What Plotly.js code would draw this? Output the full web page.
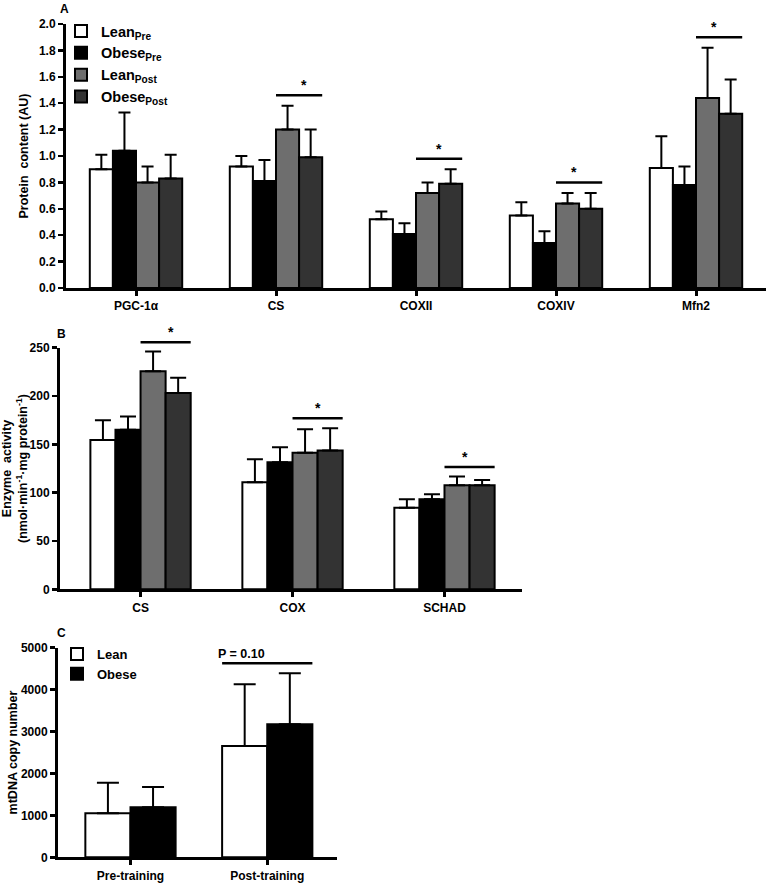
<!DOCTYPE html>
<html>
<head>
<meta charset="utf-8">
<script src="https://cdn.plot.ly/plotly-3.0.1.min.js"></script>
<style>html,body{margin:0;padding:0;background:#fff;}#chart{width:767px;height:884px;}</style>
</head>
<body>
<div id="chart"></div>
<script>
// ---------- Panel A: protein content ----------
const catsA = ['PGC-1α', 'CS', 'COXII', 'COXIV', 'Mfn2'];
const leanPreA = [0.90, 0.92, 0.52, 0.55, 0.91];
const leanPreErrA = [0.11, 0.08, 0.06, 0.10, 0.24];
const obesePreA = [1.04, 0.81, 0.41, 0.34, 0.78];
const obesePreErrA = [0.29, 0.16, 0.08, 0.09, 0.14];
const leanPostA = [0.80, 1.20, 0.72, 0.64, 1.44];
const leanPostErrA = [0.12, 0.18, 0.08, 0.08, 0.38];
const obesePostA = [0.83, 0.99, 0.79, 0.60, 1.32];
const obesePostErrA = [0.18, 0.21, 0.11, 0.12, 0.26];
const sigA = [null, 1.46, 0.98, 0.80, 1.90];

// ---------- Panel B: enzyme activity ----------
const catsB = ['CS', 'COX', 'SCHAD'];
const leanPreB = [154.5, 110.8, 84.5];
const leanPreErrB = [20.5, 23.8, 8.7];
const obesePreB = [165, 131.5, 93.2];
const obesePreErrB = [13.7, 15.5, 5.1];
const leanPostB = [225.7, 141.4, 107.7];
const leanPostErrB = [20.3, 24.2, 8.9];
const obesePostB = [203, 143.5, 107.7];
const obesePostErrB = [16, 23.2, 5.4];
const sigB = [255.7, 177, 126.6];

// ---------- Panel C: mtDNA copy number ----------
const catsC = ['Pre-training', 'Post-training'];
const leanC = [1050, 2656];
const leanErrC = [730, 1473];
const obeseC = [1193, 3174];
const obeseErrC = [485, 1217];
const sigC = [null, 4630];
const sigLabelC = 'P = 0.10';

// ---------- axis ranges ----------
const xRangeA = [-0.5, 4.5], yRangeA = [0, 2.0];
const xRangeB = [-0.53, 2.51], yRangeB = [0, 250];
const xRangeC = [-0.53, 1.51], yRangeC = [0, 5000];

// ---------- styling ----------
const FONT = 'Liberation Sans, Arial, Helvetica, sans-serif';
const colLeanPre = '#ffffff', colObesePre = '#000000', colLeanPost = '#6e6e6e', colObesePost = '#333333';
const BARGAP = 0.34;

function barTrace(name, x, y, err, color, xa, ya, capw, extra) {
  return Object.assign({
    type: 'bar', name: name, x: x, y: y, xaxis: xa, yaxis: ya,
    marker: {color: color, line: {color: '#000', width: 2}},
    error_y: {type: 'data', symmetric: false, array: err, arrayminus: y.map(() => 0),
      color: '#000', thickness: 2, width: capw},
    hoverinfo: 'skip'
  }, extra || {});
}

const traces = [
  barTrace('Lean<sub>Pre</sub>', catsA, leanPreA, leanPreErrA, colLeanPre, 'x', 'y', 6),
  barTrace('Obese<sub>Pre</sub>', catsA, obesePreA, obesePreErrA, colObesePre, 'x', 'y', 6),
  barTrace('Lean<sub>Post</sub>', catsA, leanPostA, leanPostErrA, colLeanPost, 'x', 'y', 6),
  barTrace('Obese<sub>Post</sub>', catsA, obesePostA, obesePostErrA, colObesePost, 'x', 'y', 6),
  barTrace('Lean<sub>Pre</sub>', catsB, leanPreB, leanPreErrB, colLeanPre, 'x2', 'y2', 8, {showlegend: false}),
  barTrace('Obese<sub>Pre</sub>', catsB, obesePreB, obesePreErrB, colObesePre, 'x2', 'y2', 8, {showlegend: false}),
  barTrace('Lean<sub>Post</sub>', catsB, leanPostB, leanPostErrB, colLeanPost, 'x2', 'y2', 8, {showlegend: false}),
  barTrace('Obese<sub>Post</sub>', catsB, obesePostB, obesePostErrB, colObesePost, 'x2', 'y2', 8, {showlegend: false}),
  barTrace('Lean', catsC, leanC, leanErrC, colLeanPre, 'x3', 'y3', 11, {legend: 'legend2'}),
  barTrace('Obese', catsC, obeseC, obeseErrC, colObesePre, 'x3', 'y3', 11, {legend: 'legend2'})
];

// significance bars and labels (positioned in axis-domain units derived from the axis ranges,
// so that marks above the top tick are not clipped)
const shapes = [];
const annotations = [];
const half = (1 - BARGAP) / 2;
function frac(v, r) { return (v - r[0]) / (r[1] - r[0]); }
function addSig(vals, xa, ya, xr, yr, fromOffset, toOffset, label, size, lift) {
  vals.forEach((v, i) => {
    if (v === null) return;
    const yf = frac(v, yr);
    shapes.push({type: 'line', xref: xa + ' domain', yref: ya + ' domain',
      x0: frac(i + fromOffset, xr), x1: frac(i + toOffset, xr), y0: yf, y1: yf,
      line: {color: '#000', width: 2.5}});
    annotations.push({xref: xa + ' domain', yref: ya + ' domain', x: frac(i + (fromOffset + toOffset) / 2, xr), y: yf,
      text: label, showarrow: false, yanchor: 'bottom', yshift: lift,
      font: {family: FONT, size: size, color: '#000', weight: 'bold'}});
  });
}
addSig(sigA, 'x', 'y', xRangeA, yRangeA, 0, half, '*', 14, 0);
addSig(sigB, 'x2', 'y2', xRangeB, yRangeB, 0, half, '*', 14, 0);
addSig(sigC, 'x3', 'y3', xRangeC, yRangeC, -half, half, sigLabelC, 12.5, 0);

// panel letters
[['A', 0.0847, 1 - 0 / 884], ['B', 0.0808, 1 - 325 / 884], ['C', 0.0808, 1 - 624 / 884]].forEach(p => {
  annotations.push({xref: 'paper', yref: 'paper', x: p[1], y: p[2], text: p[0], showarrow: false,
    xanchor: 'center', yanchor: 'top', font: {family: FONT, size: 12, color: '#000', weight: 'bold'}});
});

const tickFont = {family: FONT, size: 12, color: '#000', weight: 'bold'};
const titleFont = {family: FONT, size: 12.5, color: '#000', weight: 'bold'};
const xCommon = {type: 'category', showline: true, linewidth: 3, linecolor: '#000', ticks: 'outside',
  ticklen: 5, tickwidth: 3, tickcolor: '#000', tickfont: tickFont, showgrid: false, zeroline: false, fixedrange: true};
const yCommon = {showline: true, linewidth: 3, linecolor: '#000', ticks: 'outside', ticklen: 5, tickwidth: 2.5,
  tickcolor: '#000', tickfont: tickFont, showgrid: false, zeroline: false, fixedrange: true};

const layout = {
  width: 767, height: 884,
  margin: {l: 0, r: 0, t: 0, b: 0},
  paper_bgcolor: '#fff', plot_bgcolor: 'rgba(0,0,0,0)',
  barmode: 'group', bargap: BARGAP, bargroupgap: 0,
  font: {family: FONT, color: '#000'},
  showlegend: true,
  legend: {x: 61 / 767, y: 1 - 15 / 884, xanchor: 'left', yanchor: 'top', bgcolor: 'rgba(0,0,0,0)',
    font: {family: FONT, size: 14.5, color: '#000', weight: 'bold'}, traceorder: 'normal', itemclick: false},
  legend2: {x: 57 / 767, y: 1 - 639 / 884, xanchor: 'left', yanchor: 'top', bgcolor: 'rgba(0,0,0,0)',
    font: {family: FONT, size: 13, color: '#000', weight: 'bold'}, traceorder: 'normal', itemclick: false},
  xaxis: Object.assign({}, xCommon, {domain: [66 / 767, 766 / 767], range: xRangeA, anchor: 'y'}),
  yaxis: Object.assign({}, yCommon, {domain: [1 - 288 / 884, 1 - 24 / 884], range: yRangeA, dtick: 0.2,
    tickformat: '.1f', anchor: 'x', title: {text: 'Protein  content (AU)', font: titleFont, standoff: 8}}),
  xaxis2: Object.assign({}, xCommon, {domain: [60 / 767, 522 / 767], range: xRangeB, anchor: 'y2'}),
  yaxis2: Object.assign({}, yCommon, {domain: [1 - 589.3 / 884, 1 - 347.7 / 884], range: yRangeB, dtick: 50,
    anchor: 'x2', title: {text: 'Enzyme  activity<br>(nmol·min<sup>-1</sup>·mg protein<sup>-1</sup>)', font: titleFont, standoff: 0}}),
  xaxis3: Object.assign({}, xCommon, {domain: [58 / 767, 337 / 767], range: xRangeC, anchor: 'y3'}),
  yaxis3: Object.assign({}, yCommon, {domain: [1 - 857.3 / 884, 1 - 647.7 / 884], range: yRangeC, dtick: 1000,
    anchor: 'x3', title: {text: 'mtDNA copy number', font: titleFont, standoff: 1}}),
  shapes: shapes,
  annotations: annotations
};

Plotly.newPlot('chart', traces, layout, {staticPlot: true, displayModeBar: false});
</script>
</body>
</html>
